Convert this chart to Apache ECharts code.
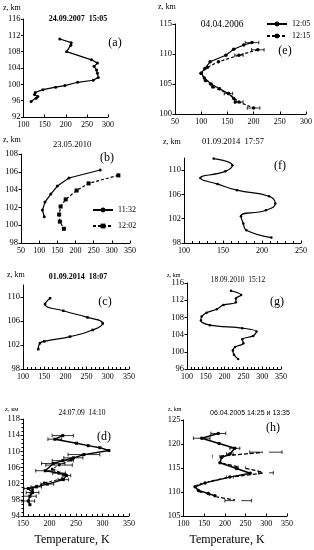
<!DOCTYPE html>
<html><head><meta charset="utf-8">
<script src="https://cdn.jsdelivr.net/npm/echarts@6/dist/echarts.min.js"></script>
<style>html,body{margin:0;padding:0;background:#fff}#c{width:314px;height:550px}</style>
</head><body><div id="c"></div>
<script>
// ---- tick labels (T, K on x; z, km on y) ----
const xTicksA=[100,150,200,250,300], yTicksA=[92,96,100,104,108,112,116];
const xTicksE=[50,100,150,200,250,300], yTicksE=[100,105,110,115];
const xTicksB=[50,100,150,200,250,300,350], yTicksB=[98,100,102,104,106,108];
const xTicksF=[100,150,200,250], yTicksF=[98,102,106,110], yTopF=112;
const xTicksC=[100,150,200,250,300,350], yTicksC=[98,102,106,110], yTopC=112;
const xTicksG=[100,150,200,250,300,350], yTicksG=[96,100,104,108,112,116];
const xTicksD=[150,200,250,300,350], yTicksD=[94,98,102,106,110,114,118];
const xTicksH=[100,150,200,250,300,350], yTicksH=[105,110,115,120,125];

// ---- data [T, z] ----
const profA=[[186,111.1],[213,110.2],[212,109.6],[202,108.0],[261,106.0],[275,105.2],[267,104.4],[273,103.5],[275,102.7],[277,101.7],[265,101.0],[228,100.5],[198,99.7],[176,99.3],[146,98.7],[128,98.0],[126,97.5],[134,97.0],[130,96.6],[118,95.8]];
const profE1=[[197,111.9],[181,111.5],[162,110.8],[147,109.8],[117,108.7],[107,107.6],[100,106.8],[106,106.0],[119,105.0],[135,104.2],[152,103.4],[162,102.6],[165,102.0]];
const profE2=[[208,110.7],[172,109.8],[133,108.7],[112,107.8],[100,106.8],[108,105.6],[122,104.5],[152,103.4],[172,102.0],[200,101.0]];
const errE=[[197,111.9,13],[208,110.7,12],[172,109.8,8],[152,103.4,8],[172,102.0,8],[200,101.0,12]];
const profB1=[[268,106.2],[182,105.3],[150,104.4],[132,103.5],[116,102.6],[109,101.7],[114,100.95]];
const profB2=[[318,105.6],[236,104.7],[203,103.9],[173,102.9],[159,102.1],[155,101.2],[157,100.4],[168,99.6]];
const profF=[[138,111.9],[162,110.8],[153,109.8],[121,108.7],[143,107.7],[168,106.7],[209,105.7],[217,104.5],[205,103.4],[173,102.4],[176,101.2],[180,100.1],[212,98.9]];
const profC=[[164,109.8],[152,108.8],[195,107.7],[252,106.6],[288,105.6],[264,104.5],[211,103.4],[150,102.6],[140,102.3],[136,101.3]];
const profG=[[217,114.2],[244,113.2],[230,112.4],[230,111.5],[197,110.9],[179,109.9],[152,109.1],[139,108.2],[137,107.3],[161,106.2],[247,105.5],[285,104.7],[276,103.7],[247,102.9],[250,102.0],[228,101.1],[222,100.3],[225,99.3],[236,98.3]];
const profD1=[[225,113.9],[210,113.0],[251,112.0],[273,111.4],[295,110.9],[312,110.2],[265,109.2],[245,108.4],[225,107.7],[207,107.0],[192,105.2],[218,104.6],[232,104.0],[226,103.0],[196,101.9],[175,101.2],[160,100.8],[168,99.8],[163,98.9],[160,97.7],[163,96.8]];
const profD2=[[265,109.2],[240,107.8],[218,106.6],[205,105.6],[230,104.3],[224,103.2],[190,102.2],[176,101.4],[168,100.5],[165,99.5]];
const errD=[[225,113.9,20],[210,113.0,13],[265,109.2,30],[245,108.4,18],[225,107.7,20],[207,107.0,22],[218,106.6,25],[192,105.2,18],[218,104.6,12],[232,104.0,8],[226,103.0,10],[196,101.9,12],[175,101.2,10],[160,100.8,8],[168,99.8,12],[163,98.9,12],[160,97.7,12]];
const profH1=[[184,122.2],[144,121.2],[186,120.1],[224,119.1],[212,117.9],[192,117.2],[188,116.1],[228,114.9],[261,113.9],[212,113.1],[152,111.9],[128,111.1],[136,110.3],[160,109.7],[176,109.2]];
const profH2=[[299,118.3],[178,117.4],[188,116.1],[241,115.1],[299,114.0],[212,113.1],[152,112.0],[124,111.2],[128,110.4],[152,109.6],[172,109.1],[232,108.2]];
const errH=[[184,122.2,18],[144,121.2,20],[224,119.1,12],[299,118.3,39],[178,117.4,8],[212,117.9,8],[241,115.1,8],[299,114.0,18],[212,113.1,8],[152,111.9,6],[232,108.2,32]];

const SERIF='"Liberation Serif","Times New Roman",serif';
const SANS='"Liberation Sans",Arial,sans-serif';

// grid rects (px) for panels a,e,b,f,c,g,d,h
const panels=[
  {g:[23.5,19,84.5,98], xt:xTicksA, yt:yTicksA},
  {g:[175,24,131,90], xt:xTicksE, yt:yTicksE},
  {g:[21,154,109,89], xt:xTicksB, yt:yTicksB},
  {g:[184,158,117,85], xt:xTicksF, yt:yTicksF, ymax:yTopF, minorX:true},
  {g:[23,285,106,84], xt:xTicksC, yt:yTicksC, ymax:yTopC, minorX:true},
  {g:[187,283,94,86], xt:xTicksG, yt:yTicksG, minorX:true},
  {g:[23,419,106,97], xt:xTicksD, yt:yTicksD, minorX:true, minorY:true},
  {g:[183.5,420,103.5,96], xt:xTicksH, yt:yTicksH}
];
const grid=[], xAxis=[], yAxis=[];
panels.forEach((p,i)=>{
  grid.push({left:p.g[0],top:p.g[1],width:p.g[2],height:p.g[3],containLabel:false,outerBoundsMode:'none'});
  const xi=p.xt[1]-p.xt[0], yi=p.yt[1]-p.yt[0];
  xAxis.push({type:'value',gridIndex:i,min:p.xt[0],max:p.xt[p.xt.length-1],interval:xi,
    axisLine:{lineStyle:{color:'#000',width:1}},splitLine:{show:false},
    axisTick:{show:true,inside:true,length:2.5,lineStyle:{color:'#000'}},
    minorTick:{show:!!p.minorX,splitNumber:5,length:2,lineStyle:{color:'#000'}},
    axisLabel:{color:'#000',fontFamily:SERIF,fontSize:8,margin:4}});
  yAxis.push({type:'value',gridIndex:i,min:p.yt[0],max:p.ymax||p.yt[p.yt.length-1],interval:yi,
    axisLine:{show:true,lineStyle:{color:'#000',width:1}},splitLine:{show:false},
    axisTick:{show:true,inside:false,length:2.5,lineStyle:{color:'#000'}},
    minorTick:{show:!!p.minorY,splitNumber:4,length:1.5,lineStyle:{color:'#000'}},
    axisLabel:{color:'#000',fontFamily:SERIF,fontSize:8.5,margin:3,showMaxLabel:!p.ymax}});
});

function errRender(params, api){
  const t=api.value(0), z=api.value(1), e=api.value(2);
  const p1=api.coord([t-e,z]), p2=api.coord([t+e,z]);
  const c=1.8, st={stroke:'#000',lineWidth:0.8};
  return {type:'group',children:[
    {type:'line',shape:{x1:p1[0],y1:p1[1],x2:p2[0],y2:p2[1]},style:st},
    {type:'line',shape:{x1:p1[0],y1:p1[1]-c,x2:p1[0],y2:p1[1]+c},style:st},
    {type:'line',shape:{x1:p2[0],y1:p2[1]-c,x2:p2[0],y2:p2[1]+c},style:st}
  ]};
}
function line(i,data,o){
  o=o||{};
  return Object.assign({type:'line',xAxisIndex:i,yAxisIndex:i,data:data,
    symbol:'circle',symbolSize:3,smooth:false,
    lineStyle:{color:'#000',width:1.2},itemStyle:{color:'#000'},
    emphasis:{disabled:true},animation:false},o);
}
function err(i,data){
  return {type:'custom',xAxisIndex:i,yAxisIndex:i,data:data,renderItem:errRender,encode:{x:0,y:1},animation:false,silent:true};
}

const series=[
  line(0,profA),
  line(1,profE1,{name:'12:05',symbolSize:3.5}),
  line(1,profE2,{name:'12:15',symbolSize:3.5,lineStyle:{color:'#000',width:1.2,type:[3,2]}}),
  err(1,errE),
  line(2,profB1,{name:'11:32'}),
  line(2,profB2,{name:'12:02',symbol:'rect',symbolSize:4,lineStyle:{color:'#000',width:1.2,type:[3,2]}}),
  line(3,profF,{smooth:0.5,symbolSize:2.5}),
  line(4,profC,{smooth:0.5,symbol:'rect',symbolSize:2.5}),
  line(5,profG,{smooth:0.35,symbolSize:2.5}),
  err(6,errD),
  line(6,profD2,{symbol:'rect',symbolSize:2.5,lineStyle:{color:'#000',width:1,type:[3,2]}}),
  line(6,profD1,{symbol:'rect',symbolSize:3,lineStyle:{color:'#000',width:1.4}}),
  err(7,errH),
  line(7,profH2,{symbol:'emptyCircle',symbolSize:4.5,lineStyle:{color:'#000',width:1.3,type:[4,2]},itemStyle:{color:'#fff',borderColor:'#000',borderWidth:1}}),
  line(7,profH1,{symbolSize:3.5,lineStyle:{color:'#000',width:1.5},z:4})
];

function txt(s,x,y,font,align){
  return {type:'text',x:x,y:y,silent:true,style:{text:s,font:font,fill:'#000',
    align:align||'center',verticalAlign:'middle',textAlign:align||'center',textVerticalAlign:'middle'}};
}
const graphic=[
  txt('z, km',3,8,'8px '+SERIF,'left'),
  txt('z, km',158,7,'8px '+SERIF,'left'),
  txt('z, km',3,140,'8px '+SERIF,'left'),
  txt('z, km',163,142,'8px '+SERIF,'left'),
  txt('z, km',7,275,'8px '+SERIF,'left'),
  txt('z, km',167,275,'6px '+SERIF,'left'),
  txt('z, км',5,409,'6.5px '+SERIF,'left'),
  txt('z, km',168,409,'6px '+SERIF,'left'),
  txt('24.09.2007  15:05',78,19,'bold 8px '+SERIF),
  txt('04.04.2006',222,24,'9.5px '+SERIF),
  txt('23.05.2010',72,145,'8.5px '+SERIF),
  txt('01.09.2014  17:57',233,142,'8.5px '+SERIF),
  txt('01.09.2014  18:07',78,277,'bold 8px '+SERIF),
  txt('18.09.2010  15:12',238,280,'7.5px '+SERIF),
  txt('24.07.09  14:10',82,413,'7.5px '+SERIF),
  txt('06.04.2005 14:25 и 13:35',250,413,'7px '+SANS),
  txt('(a)',115,43,'12px '+SERIF),
  txt('(e)',285,51,'12px '+SERIF),
  txt('(b)',107,158,'12px '+SERIF),
  txt('(f)',280,166,'12px '+SERIF),
  txt('(c)',105,302,'12px '+SERIF),
  txt('(g)',277,302,'12px '+SERIF),
  txt('(d)',104,437,'12px '+SERIF),
  txt('(h)',273,428,'12px '+SERIF),
  txt('Temperature, K',72,540,'12px '+SERIF),
  txt('Temperature, K',227,540,'12px '+SERIF)
];

const legend=[
  {data:['12:05','12:15'],left:261,top:15,orient:'vertical',itemWidth:20,itemHeight:6,itemGap:4,
   textStyle:{fontFamily:SERIF,fontSize:8,color:'#000'},selectedMode:false},
  {data:['11:32','12:02'],left:87,top:201,orient:'vertical',itemWidth:20,itemHeight:6,itemGap:8,
   textStyle:{fontFamily:SERIF,fontSize:8,color:'#000'},selectedMode:false}
];

const chart=echarts.init(document.getElementById('c'),null,{renderer:'canvas'});
chart.setOption({animation:false,backgroundColor:'#fff',grid,xAxis,yAxis,series,graphic,legend});
</script></body></html>
